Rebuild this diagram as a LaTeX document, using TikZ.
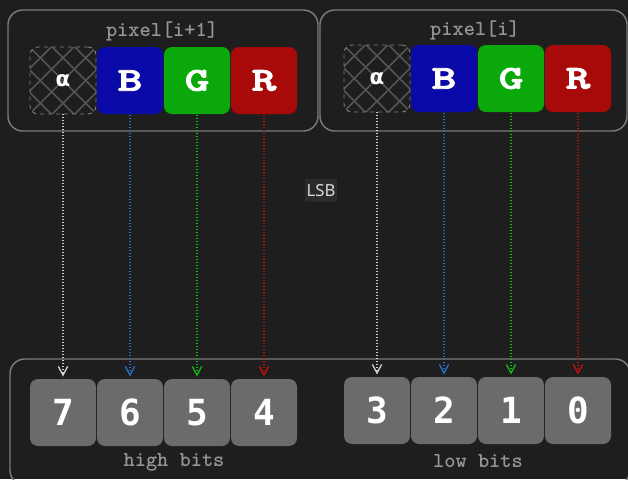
\documentclass[tikz,border=0pt]{standalone}
\usepackage{fontspec}
\usetikzlibrary{arrows.meta}

\newfontfamily\slabmono{lmmonolt10-bold.otf}
\newfontfamily\slabheavy{lmmonolt10-bold.otf}[FakeBold=2.5]
\newfontfamily\digitmono{DejaVu Sans Mono}[BoldFont=* Bold]
\newfontfamily\lsbsans{Noto Sans}
\newfontfamily\alphasans{DejaVu Sans}[BoldFont=* Bold]

\definecolor{bgdark}{HTML}{1E1E1E}
\definecolor{framegray}{HTML}{7A7A7A}
\definecolor{labelgray}{HTML}{959595}
\definecolor{chanB}{HTML}{0A0AA8}
\definecolor{chanG}{HTML}{0AA80A}
\definecolor{chanR}{HTML}{A80A0A}
\definecolor{bitgray}{HTML}{6B6B6B}
\definecolor{hatchgray}{HTML}{555555}
\definecolor{linkA}{HTML}{D0D0D0}
\definecolor{linkB}{HTML}{2A6FC9}
\definecolor{linkG}{HTML}{10B810}
\definecolor{linkR}{HTML}{C01010}

\tikzset{every picture/.style={line width=0.75pt}}
\tikzset{
  chan/.style={rectangle, rounded corners=6pt, inner sep=0pt, minimum width=49.5pt, minimum height=50.25pt, text=white, font=\slabheavy\fontsize{25}{27}\selectfont},
  alphabox/.style={chan, draw=labelgray!120, dashed, line width=0.7pt, font=\alphasans\bfseries\fontsize{16}{18}\selectfont,
    path picture={\foreach \k in {-4,...,4} {
      \draw[hatchgray, line width=1.2pt, solid] (path picture bounding box.center) ++(\k*17pt-40pt,-40pt) -- ++(80pt,80pt);
      \draw[hatchgray, line width=1.2pt, solid] (path picture bounding box.center) ++(\k*17pt+40pt,-40pt) -- ++(-80pt,80pt);}}},
  bitbox/.style={rectangle, rounded corners=6pt, inner sep=0pt, minimum width=49.5pt, minimum height=50.25pt, fill=bitgray, text=white, font=\digitmono\bfseries\fontsize{27}{29}\selectfont},
  grouplabel/.style={text=labelgray, font=\slabmono\fontsize{16}{18}\selectfont, inner sep=0pt},
  link/.style={line width=0.9pt, dash pattern=on 0.75pt off 1.5pt, shorten >=1.5pt, -{Straight Barb[length=6.5pt,width=7pt,line width=1pt]}}
}

\newcommand{\wide}[1]{\scalebox{1.4}[1]{#1}}

\begin{document}
\begin{tikzpicture}[x=0.75pt,y=0.75pt,yscale=-1,xscale=1]
\useasboundingbox (0,0) rectangle (628,479);
\fill[bgdark] (0,0) rectangle (628,479);

%Shape: Rounded Rectangle pixel[i+1]
\draw [framegray, line width=1.1pt, rounded corners=11pt] (8,10) rectangle (318,131);
%Shape: Rounded Rectangle pixel[i]
\draw [framegray, line width=1.1pt, rounded corners=11pt] (320,10) rectangle (627,131);
%Shape: Rounded Rectangle bits
\draw [framegray, line width=1.1pt, rounded corners=11pt] (10,359) rectangle (630,485);

% Text Node
\node [grouplabel] (lblhi) at (162,31) {pixel[i+1]};
\node [grouplabel] (lbllo) at (475,30) {pixel[i]};

%Channels of pixel[i+1]
\node [alphabox] (aL) at (63,80.5) {α};
\node [chan, fill=chanB] (bL) at (130,80.5) {\wide{B}};
\node [chan, fill=chanG] (gL) at (197,80.5) {\wide{G}};
\node [chan, fill=chanR] (rL) at (264,80.5) {\wide{R}};

%Channels of pixel[i]
\node [alphabox] (aR) at (377,78.5) {α};
\node [chan, fill=chanB] (bR) at (444,78.5) {\wide{B}};
\node [chan, fill=chanG] (gR) at (511,78.5) {\wide{G}};
\node [chan, fill=chanR] (rR) at (578,78.5) {\wide{R}};

% Text Node
\node [fill=black!83, text=black!15, font=\lsbsans\fontsize{12.5}{14}\selectfont, inner xsep=1.5pt, inner ysep=4pt] (lsb) at (321,190.5) {LSB};

%Bits, high
\node [bitbox] (bit7) at (63,412.5) {7};
\node [bitbox] (bit6) at (130,412.5) {6};
\node [bitbox] (bit5) at (197,412.5) {5};
\node [bitbox] (bit4) at (264,412.5) {4};

%Bits, low
\node [bitbox] (bit3) at (377,410.5) {3};
\node [bitbox] (bit2) at (444,410.5) {2};
\node [bitbox] (bit1) at (511,410.5) {1};
\node [bitbox] (bit0) at (578,410.5) {0};

% Text Node
\node [grouplabel] (hibits) at (174,462) {high bits};
\node [grouplabel] (lobits) at (478,461) {low bits};

%Straight Lines
\draw [link, linkA] (aL) -- (bit7);
\draw [link, linkB] (bL) -- (bit6);
\draw [link, linkG] (gL) -- (bit5);
\draw [link, linkR] (rL) -- (bit4);
\draw [link, linkA] (aR) -- (bit3);
\draw [link, linkB] (bR) -- (bit2);
\draw [link, linkG] (gR) -- (bit1);
\draw [link, linkR] (rR) -- (bit0);

\end{tikzpicture}
\end{document}
